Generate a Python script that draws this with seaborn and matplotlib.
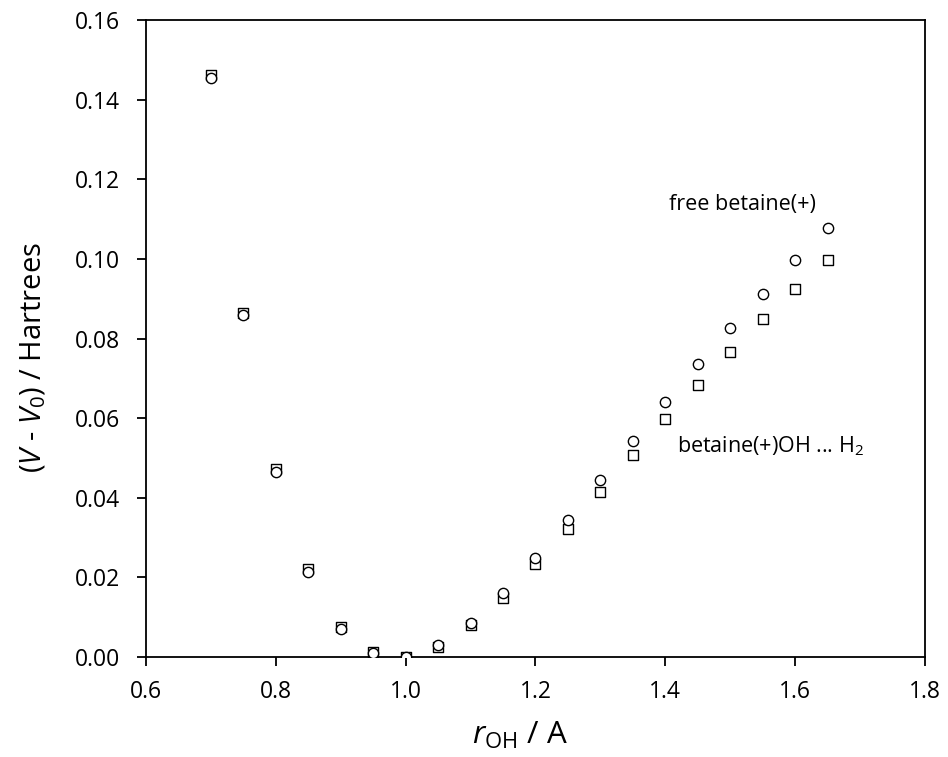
import numpy as np
import pandas as pd
import matplotlib
matplotlib.use("Agg")
import matplotlib.pyplot as plt
import seaborn as sns
from matplotlib.ticker import FormatStrFormatter

sns.set_style("ticks")
plt.rcParams['font.family'] = ['Open Sans', 'DejaVu Sans']
plt.rcParams['mathtext.fontset'] = 'custom'
plt.rcParams['mathtext.rm'] = 'Open Sans'
plt.rcParams['mathtext.it'] = 'Open Sans:italic'
plt.rcParams['text.color'] = 'black'
plt.rcParams['axes.labelcolor'] = 'black'
plt.rcParams['xtick.color'] = 'black'
plt.rcParams['ytick.color'] = 'black'

# O-H distance (Angstrom)
r_oh = [0.70, 0.75, 0.80, 0.85, 0.90, 0.95, 1.00, 1.05, 1.10, 1.15,
        1.20, 1.25, 1.30, 1.35, 1.40, 1.45, 1.50, 1.55, 1.60, 1.65]
# free betaine(+)  (circles)
free_betaine = [0.1455, 0.0858, 0.0466, 0.0214, 0.0071, 0.0009, 0.0000, 0.0030, 0.0086, 0.0160,
                0.0248, 0.0344, 0.0444, 0.0543, 0.0641, 0.0736, 0.0826, 0.0912, 0.0997, 0.1077]
# betaine(+)OH ... H2  (squares)
betaine_h2 = [0.1462, 0.0865, 0.0472, 0.0220, 0.0076, 0.0012, 0.0000, 0.0026, 0.0080, 0.0149,
              0.0233, 0.0321, 0.0414, 0.0508, 0.0598, 0.0684, 0.0767, 0.0848, 0.0924, 0.0997]

df_free = pd.DataFrame({'r': r_oh, 'dV': free_betaine})
df_h2 = pd.DataFrame({'r': r_oh, 'dV': betaine_h2})

fig = plt.figure(figsize=(9.48, 7.57), dpi=100)
ax = fig.add_axes([0.154, 0.132, 0.8217, 0.8415])

# squares first, circles drawn on top
sns.scatterplot(data=df_h2, x='r', y='dV', marker='s', s=45, facecolor='white',
                edgecolor='black', linewidth=1.0, ax=ax, zorder=3)
sns.scatterplot(data=df_free, x='r', y='dV', marker='o', s=55, facecolor='white',
                edgecolor='black', linewidth=1.0, ax=ax, zorder=4)

ax.set_xlim(0.6, 1.8)
ax.set_ylim(0.0, 0.16)
ax.set_xticks(np.arange(0.6, 1.81, 0.2))
ax.set_yticks(np.arange(0.0, 0.161, 0.02))
ax.xaxis.set_major_formatter(FormatStrFormatter('%.1f'))
ax.yaxis.set_major_formatter(FormatStrFormatter('%.2f'))
ax.tick_params(axis='both', labelsize=16.5, direction='out', length=6.5, width=1.3,
               color='black', labelcolor='black')
ax.tick_params(axis='y', pad=12)
ax.tick_params(axis='x', pad=10)
for sp in ax.spines.values():
    sp.set_linewidth(1.3)
    sp.set_color('black')

ax.set_xlabel(r'$\mathit{r}_{\mathrm{OH}}$ / A', fontsize=22.5)
ax.set_ylabel(r'($\mathit{V}$ - $\mathit{V}_{0}$) / Hartrees', fontsize=21)
ax.xaxis.set_label_coords(0.48, -0.098)
ax.yaxis.set_label_coords(-0.126, 0.47)

ax.text(1.405, 0.1123, 'free betaine(+)', fontsize=15.5, va='baseline', ha='left')
ax.text(1.418, 0.0515, r'betaine(+)OH ... H$_2$', fontsize=15.5, va='baseline', ha='left')

fig.savefig('out.png', dpi=100)
